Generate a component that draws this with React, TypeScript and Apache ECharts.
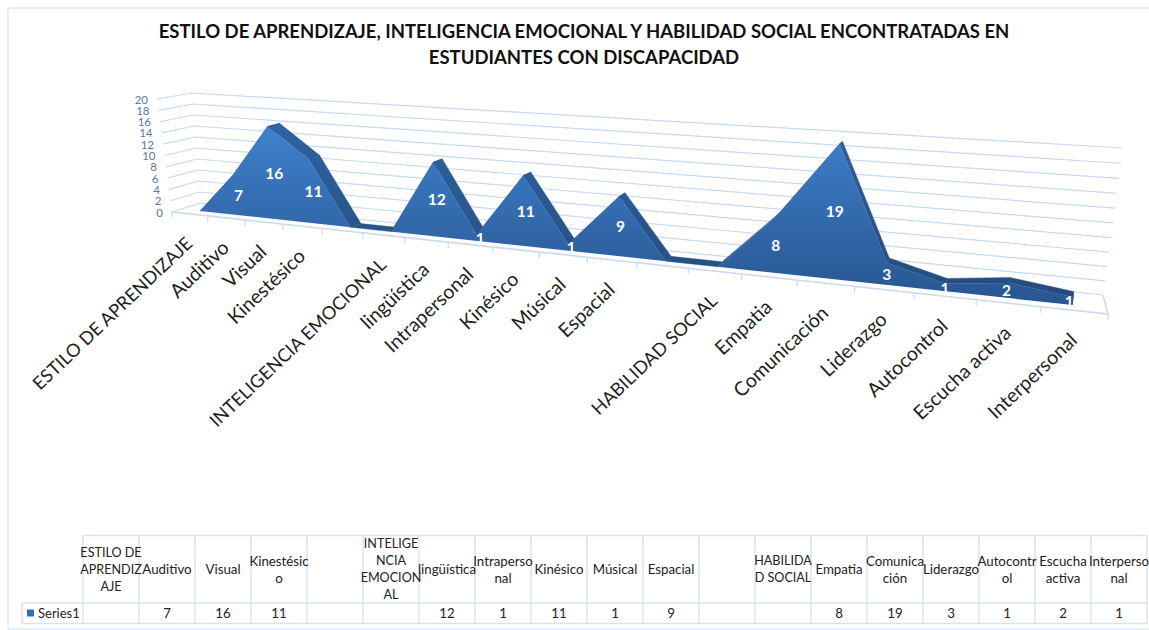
import React, { useEffect, useRef } from "react";
import * as echarts from "echarts";

const FONT = "Lato, 'Open Sans', sans-serif";
const titleText = "ESTILO DE APRENDIZAJE, INTELIGENCIA EMOCIONAL Y HABILIDAD SOCIAL ENCONTRATADAS EN\nESTUDIANTES CON DISCAPACIDAD";
const categories = ["ESTILO DE APRENDIZAJE","Auditivo","Visual","Kinestésico","","INTELIGENCIA EMOCIONAL","lingüística","Intrapersonal","Kinésico","Músical","Espacial","","HABILIDAD SOCIAL","Empatia","Comunicación","Liderazgo","Autocontrol","Escucha activa","Interpersonal"];
const headerCells = ["ESTILO DE\nAPRENDIZ\nAJE","Auditivo","Visual","Kinestésic\no","","INTELIGE\nNCIA\nEMOCION\nAL","lingüística","Intraperso\nnal","Kinésico","Músical","Espacial","","HABILIDA\nD SOCIAL","Empatia","Comunica\nción","Liderazgo","Autocontr\nol","Escucha\nactiva","Interperso\nnal"];
const values: (number | null)[] = [null,7,16,11,null,null,12,1,11,1,9,null,null,8,19,3,1,2,1];
const yTicks = [0,2,4,6,8,10,12,14,16,18,20];
const seriesName = "Series1";

const GL = 172, GT = 100, GW = 936, GH = 112;
const gridColor = "#c9d9f0";

const norm = (api: any, i: number, v: number) => {
  const c = api.coord([i, v]);
  return { t: (c[0] - GL) / GW, r: (GT + GH - c[1]) / GH };
};
const lerp = (a: number, b: number, k: number) => a + (b - a) * k;
const isUpper = (s: string) => s === s.toUpperCase();

// perspective of the front face of the area
const project = (api: any, i: number, v: number, depth: number) => {
  const { t, r } = norm(api, i, v);
  const x0 = (200 + 582 * t) / (1 - 0.271 * t);
  const y0 = 211 + (x0 - 200) * 0.1077;
  const u = (5.6 / (1 - 0.271 * t)) * 20;
  const k = lerp(-0.5, 1.0, t) * 20;
  const dx = 13.5 * (1 - t) * depth;
  const dy = -(3 + 3 * t) * (1 - 0.8 * r * t) * depth;
  return [x0 + r * k + dx, y0 - r * u + dy];
};
// floor front edge
const edge = (s: number) => {
  const x = (172 + 623 * s) / (1 - 0.2826 * s);
  return [x, 212 + (x - 172) * 0.109];
};

const areaFill = { type: "linear", x: 0, y: 127, x2: 0, y2: 305, global: true,
  colorStops: [{ offset: 0, color: "#3f80cd" }, { offset: 1, color: "#27558f" }] };
const ridgeFill = { type: "linear", x: 0, y: 127, x2: 0, y2: 305, global: true,
  colorStops: [{ offset: 0, color: "#2f62a2" }, { offset: 1, color: "#234a7b" }] };

const zeroed = values.map((v) => v ?? 0);

export default function App() {
  const ref = useRef<HTMLDivElement>(null);
  useEffect(() => {
    const chart = echarts.init(ref.current!, undefined, { renderer: "svg" });

    const wallItem = (_: any, api: any) => {
      const { r } = norm(api, 0, api.value(1));
      const fl = [172 - 15 * r, 212 - 113 * r];
      const bl = [200 - 8 * r, 203 - 110 * r];
      const br = [1103 + 20 * r, 295 - 147 * (0.96 * r + 0.04 * r * r)];
      const children: any[] = [
        { type: "polyline", shape: { points: [fl, bl, br] }, style: { fill: "none", stroke: gridColor, lineWidth: 1.2 } },
        { type: "text", x: fl[0] - 9, y: fl[1], style: { text: String(api.value(1)), fill: "#5b7aa6", font: `11.5px ${FONT}`, textAlign: "right", textVerticalAlign: "middle" } },
      ];
      if (r === 0) {
        children.push({ type: "polyline", shape: { points: [[172, 212], [1108, 314], [1103, 295]] }, style: { fill: "none", stroke: gridColor, lineWidth: 1.6 } });
        children.push({ type: "line", shape: { x1: 172, y1: 212, x2: 172, y2: 217 }, style: { stroke: gridColor, lineWidth: 1.2 } });
      }
      return { type: "group", children };
    };

    const catItem = (_: any, api: any) => {
      const i = api.value(0);
      const { t } = norm(api, i, 0);
      const idx = Math.round(t * 18);
      const c = edge((t * 18 + 0.5) / 19);
      const e = edge((t * 18 + 1) / 19);
      const size = isUpper(categories[idx]) ? 18.2 : 19.6;
      return { type: "group", children: [
        { type: "line", shape: { x1: e[0], y1: e[1], x2: e[0], y2: e[1] + 6 }, style: { stroke: gridColor, lineWidth: 1.2 } },
        { type: "text", x: c[0] - 1, y: c[1] + 26, rotation: (43.5 * Math.PI) / 180, style: { text: categories[idx], fill: "#1f1f1f", font: `${size}px ${FONT}`, textAlign: "right", textVerticalAlign: "middle" } },
      ] };
    };

    const ridgeItem = (_: any, api: any) => {
      const i = api.value(0);
      if (i >= zeroed.length - 1) return { type: "group", children: [] };
      const v = api.value(1), w = zeroed[i + 1];
      return { type: "polygon", shape: { points: [project(api, i, v, 0), project(api, i + 1, w, 0), project(api, i + 1, w, 1), project(api, i, v, 1)] }, style: { fill: ridgeFill, stroke: "#264e82", lineWidth: 0.4 } };
    };

    const frontItem = (p: any, api: any) => {
      if (p.dataIndex !== 0) return { type: "group", children: [] };
      const pts = zeroed.map((v, i) => project(api, i, v, 0));
      pts.push(project(api, zeroed.length - 1, 0, 0), project(api, 0, 0, 0));
      return { type: "polygon", shape: { points: pts }, style: { fill: areaFill } };
    };

    const labelItem = (_: any, api: any) => {
      const i = api.value(0), v = api.value(1);
      if (values[i] == null) return { type: "group", children: [] };
      const top = project(api, i, v, 0), base = project(api, i, 0, 0);
      const t = i / 18;
      return { type: "text", x: (top[0] + base[0]) / 2 + 4 - 3 * t * t - 5 * Math.pow(t, 8), y: (top[1] + base[1]) / 2, style: { text: String(v), fill: "#fff", font: `bold 15.5px ${FONT}`, textAlign: "center", textVerticalAlign: "middle" } };
    };

    // data table
    const TL = 83, CW = 56, TT = 535.5, TM = 603, TB = 623.5;
    const tableColor = "#d6e2f3";
    const frameColor = "#dfe9f6";
    const g: any[] = [];
    const ln = (x1: number, y1: number, x2: number, y2: number, c = tableColor) => g.push({ type: "line", shape: { x1, y1, x2, y2 }, style: { stroke: c, lineWidth: 1.4 } });
    ln(8, 8, 1149, 8, frameColor);
    ln(8, 8, 8, 629, frameColor);
    ln(8, 629, 1149, 629, frameColor);
    for (let k = 0; k <= headerCells.length; k++) ln(TL + k * CW, TT, TL + k * CW, TB);
    ln(TL, TT, TL + headerCells.length * CW, TT);
    ln(22, TM, TL + headerCells.length * CW, TM);
    ln(22, TB, TL + headerCells.length * CW, TB);
    ln(22, TM, 22, TB);
    headerCells.forEach((h, k) => {
      const size = isUpper(h) ? 12.6 : 13.3;
      if (h) g.push({ type: "text", x: TL + (k + 0.5) * CW, y: (TT + TM) / 2, style: { text: h, fill: "#222", font: `${size}px ${FONT}`, lineHeight: 17, textAlign: "center", textVerticalAlign: "middle" } });
      const v = values[k];
      if (v != null) g.push({ type: "text", x: TL + (k + 0.5) * CW, y: (TM + TB) / 2, style: { text: String(v), fill: "#222", font: `13.3px ${FONT}`, textAlign: "center", textVerticalAlign: "middle" } });
    });
    g.push({ type: "rect", shape: { x: 27, y: 609.5, width: 7, height: 7 }, style: { fill: "#2f6db5" } });
    g.push({ type: "text", x: 38, y: (TM + TB) / 2, style: { text: seriesName, fill: "#222", font: `13px ${FONT}`, textAlign: "left", textVerticalAlign: "middle" } });

    const tickData = yTicks.map((y) => [0, y]);
    const catData = categories.map((_, i) => [i, 0]);
    const valData = zeroed.map((v, i) => [i, v]);
    const base = { type: "custom", coordinateSystem: "cartesian2d", silent: true, clip: false, encode: { x: 0, y: 1 } };

    chart.setOption({
      animation: false,
      backgroundColor: "#fff",
      title: { text: titleText, left: 579, top: 13, textAlign: "center", textStyle: { fontFamily: FONT, fontWeight: "bold", fontSize: 18.5, color: "#111", lineHeight: 26 } },
      grid: { left: GL, top: GT, width: GW, height: GH },
      xAxis: { type: "value", min: 0, max: 18, show: false },
      yAxis: { type: "value", min: 0, max: 20, interval: 2, show: false },
      graphic: { elements: g },
      series: [
        { ...base, name: "walls", data: tickData, renderItem: wallItem, z: 1 },
        { ...base, name: "categories", data: catData, renderItem: catItem, z: 2 },
        { ...base, name: "ridge", data: valData, renderItem: ridgeItem, z: 3 },
        { ...base, name: seriesName, data: valData, renderItem: frontItem, z: 4 },
        { ...base, name: "labels", data: valData, renderItem: labelItem, z: 5 },
      ],
    });
    return () => chart.dispose();
  }, []);
  return <div ref={ref} style={{ position: "fixed", left: 0, top: 0, width: 1149, height: 630 }} />;
}
